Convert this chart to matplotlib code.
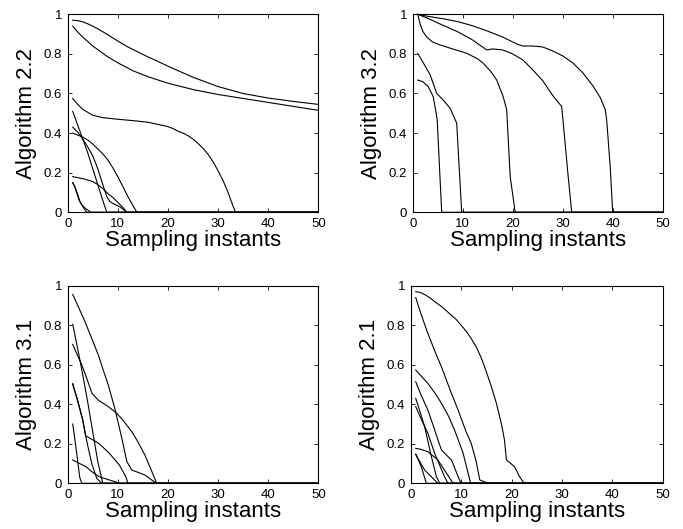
import matplotlib
matplotlib.use("Agg")
import matplotlib.pyplot as plt

plt.rcParams['font.family'] = ['Liberation Sans', 'DejaVu Sans']

# Algorithm 2.2 (top left)
alg22_x = [
    [1, 2, 3, 4, 5, 6, 8, 10, 12, 14, 16, 18, 20, 25, 30, 35, 40, 45, 50],
    [1, 2, 3, 5, 8, 10, 13, 16, 20, 25, 30, 35, 40, 45, 50],
    [1, 2, 3, 5, 7, 10, 13, 16, 20, 21, 22, 23, 24, 25, 26, 27, 28, 29, 30, 31, 32, 33, 33.5],
    [1, 2, 3, 4, 5, 6, 7, 7.8],
    [1, 2, 3, 4, 5, 6, 7, 7.8, 8.4, 9, 10.4, 11.8],
    [1, 2, 3, 4, 5, 6, 7, 8, 9, 10, 11, 12, 13, 13.8],
    [1, 2, 3, 4, 5, 6, 7, 8, 9, 10, 11, 11.8],
    [1, 1.5, 2, 2.45, 3, 3.45, 3.8],
    [1, 1.4, 1.8, 2.3, 2.8, 3.5, 4.1, 4.6],
]
alg22_y = [
    [0.97, 0.968, 0.962, 0.952, 0.94, 0.927, 0.897, 0.865, 0.835, 0.81, 0.785, 0.762, 0.738,
     0.682, 0.635, 0.60, 0.577, 0.56, 0.545],
    [0.94, 0.91, 0.885, 0.84, 0.785, 0.755, 0.715, 0.685, 0.652, 0.62, 0.595, 0.575, 0.555, 0.535, 0.515],
    [0.575, 0.545, 0.52, 0.49, 0.478, 0.47, 0.463, 0.455, 0.433, 0.423, 0.41, 0.40, 0.387, 0.37,
     0.348, 0.323, 0.293, 0.255, 0.21, 0.16, 0.10, 0.03, 0],
    [0.51, 0.44, 0.37, 0.30, 0.22, 0.14, 0.06, 0],
    [0.43, 0.405, 0.37, 0.33, 0.285, 0.22, 0.14, 0.08, 0.055, 0.045, 0.028, 0],
    [0.40, 0.39, 0.38, 0.365, 0.345, 0.32, 0.295, 0.265, 0.225, 0.18, 0.13, 0.08, 0.035, 0],
    [0.18, 0.175, 0.17, 0.163, 0.155, 0.14, 0.12, 0.095, 0.075, 0.05, 0.025, 0],
    [0.15, 0.125, 0.09, 0.054, 0.03, 0.012, 0],
    [0.15, 0.13, 0.096, 0.06, 0.037, 0.02, 0.01, 0],
]

# Algorithm 3.2 (top right)
alg32_x = [
    [1, 3, 6, 9, 12, 15, 18, 21, 22, 24, 26, 28, 30, 32, 34, 36, 37.5, 38.5, 38.8, 39.5, 40],
    [1, 3, 6, 9, 12, 14.8, 16, 18, 20, 22, 24, 26, 28, 29.8, 31.1, 31.8],
    [1, 1.5, 2, 2.8, 4, 5.5, 8, 10.8, 13, 14.1, 15.5, 16.8, 18.1, 18.8, 19.5, 20.5],
    [1, 2, 3.5, 4.8, 6.1, 7.5, 8.8, 9.1, 9.8],
    [1, 2, 3.1, 4.1, 4.7, 4.9, 5.8],
]
alg32_y = [
    [1.0, 0.99, 0.978, 0.963, 0.942, 0.915, 0.885, 0.848, 0.84, 0.84, 0.835, 0.815, 0.79, 0.755,
     0.705, 0.64, 0.58, 0.52, 0.466, 0.23, 0],
    [1.0, 0.98, 0.945, 0.912, 0.87, 0.82, 0.825, 0.82, 0.80, 0.77, 0.72, 0.665, 0.59, 0.534, 0.18, 0],
    [1.0, 0.95, 0.915, 0.885, 0.86, 0.845, 0.825, 0.803, 0.775, 0.753, 0.715, 0.668, 0.584, 0.517, 0.18, 0],
    [0.803, 0.76, 0.694, 0.601, 0.567, 0.525, 0.45, 0.315, 0],
    [0.668, 0.66, 0.635, 0.584, 0.5, 0.466, 0],
]

# Algorithm 3.1 (bottom left)
alg31_x = [
    [1, 2, 3.45, 5, 6.1, 7, 8.1, 9.4, 10.8, 11.8, 12.8, 15.4, 16.8, 17.75],
    [1, 2, 3, 4, 5, 6, 7],
    [1, 2, 2.8, 3.8, 4.85, 6.1, 8.1, 9.8, 11, 12.8, 14, 15.4, 16.8, 17.75],
    [1, 2, 3, 3.5, 4, 4.8, 5.8, 6.8],
    [1, 2, 3, 3.6, 5, 6.3, 8.3, 10.3, 11.6, 12],
    [1, 1.5, 2, 2.4, 2.8],
    [1, 2, 3.65, 5, 6.3, 8.3, 10.4],
]
alg31_y = [
    [0.956, 0.9, 0.818, 0.72, 0.65, 0.58, 0.497, 0.379, 0.228, 0.11, 0.067, 0.042, 0.016, 0],
    [0.805, 0.68, 0.55, 0.41, 0.26, 0.11, 0],
    [0.703, 0.645, 0.6, 0.531, 0.455, 0.421, 0.388, 0.354, 0.32, 0.261, 0.21, 0.143, 0.059, 0],
    [0.505, 0.42, 0.32, 0.25, 0.19, 0.1, 0.025, 0],
    [0.5, 0.415, 0.32, 0.24, 0.22, 0.2, 0.152, 0.093, 0.033, 0],
    [0.3, 0.21, 0.11, 0.03, 0],
    [0.118, 0.105, 0.084, 0.055, 0.033, 0.017, 0],
]

# Algorithm 2.1 (bottom right)
alg21_x = [
    [1, 2, 3, 4, 5, 6, 7, 8, 9, 10, 11, 12, 13, 14, 15, 16, 17, 18, 18.6, 19, 20.6, 21.6, 22.5],
    [1, 2, 3.4, 5, 6.1, 8, 9.4, 11, 12, 13, 13.7, 15.3],
    [1, 2, 3.4, 5, 6.1, 7.5, 8.7, 9.5, 10.4, 11.2, 11.9],
    [1, 2, 3.4, 4.5, 5.4, 6.1, 7, 8.1, 9.4, 10],
    [1, 2, 2.77, 4.1, 5.1, 5.75],
    [1, 2, 3.4, 4.75, 6.7, 7.4],
    [1, 2, 3.4, 5.4, 7.1, 8.4],
    [1, 1.5, 2.1, 3.1],
    [1, 2, 2.77, 4.4, 5.4],
]
alg21_y = [
    [0.97, 0.965, 0.952, 0.935, 0.915, 0.897, 0.875, 0.852, 0.83, 0.80, 0.77, 0.733, 0.69, 0.635,
     0.565, 0.49, 0.405, 0.30, 0.22, 0.118, 0.084, 0.034, 0],
    [0.94, 0.86, 0.759, 0.655, 0.59, 0.46, 0.371, 0.26, 0.203, 0.11, 0.017, 0],
    [0.573, 0.545, 0.506, 0.45, 0.405, 0.34, 0.27, 0.215, 0.152, 0.07, 0],
    [0.514, 0.45, 0.371, 0.29, 0.22, 0.169, 0.145, 0.118, 0.034, 0],
    [0.43, 0.35, 0.286, 0.135, 0.034, 0],
    [0.388, 0.33, 0.253, 0.152, 0.034, 0],
    [0.177, 0.172, 0.16, 0.118, 0.051, 0],
    [0.147, 0.12, 0.084, 0],
    [0.147, 0.1, 0.067, 0.025, 0],
]

panels = [
    ("Algorithm 2.2", alg22_x, alg22_y, [67.7, 14.3, 318.3, 212.3]),
    ("Algorithm 3.2", alg32_x, alg32_y, [412.7, 14.3, 662.7, 212.3]),
    ("Algorithm 3.1", alg31_x, alg31_y, [67.7, 285.7, 318.3, 483.3]),
    ("Algorithm 2.1", alg21_x, alg21_y, [410.7, 285.7, 662.7, 483.3]),
]

W, H = 683, 529
fig = plt.figure(figsize=(W / 100, H / 100), dpi=100)

for title, xs, ys, box in panels:
    l, t, r, b = box
    ax = fig.add_axes([l / W, 1 - b / H, (r - l) / W, (b - t) / H])
    for x, y in zip(xs, ys):
        # curves that die out stay at zero until the last instant
        if y[-1] == 0:
            x = x + [50]
            y = y + [0]
        ax.plot(x, y, color='k', lw=0.8, clip_on=False)
    ax.set_xlim(0, 50)
    ax.set_ylim(0, 1)
    ax.set_xticks([0, 10, 20, 30, 40, 50])
    ax.set_yticks([0, 0.2, 0.4, 0.6, 0.8, 1])
    ax.set_yticklabels(['0', '0.2', '0.4', '0.6', '0.8', '1'])
    ax.tick_params(direction='in', top=True, right=True, length=3, width=0.6,
                   labelsize=9.5, pad=4)
    for s in ax.spines.values():
        s.set_linewidth(0.8)
    ax.set_xlabel("Sampling instants", fontsize=16, labelpad=0)
    ax.set_ylabel(title, fontsize=16, labelpad=5)

fig.savefig("out.png", dpi=100)
